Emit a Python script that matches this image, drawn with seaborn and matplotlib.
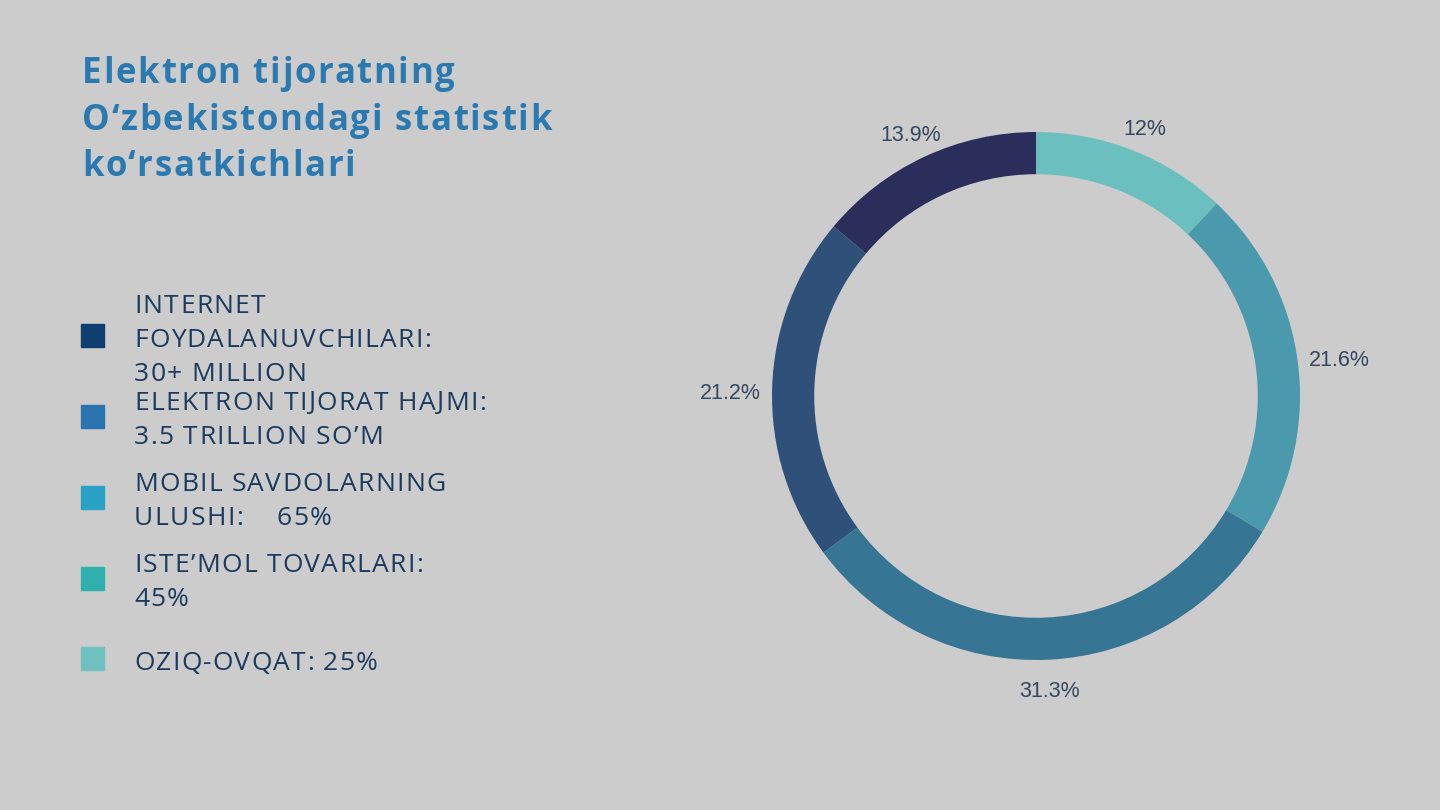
import matplotlib
matplotlib.use("Agg")
import numpy as np
import matplotlib.pyplot as plt
import matplotlib.patches as mpatches
import matplotlib.transforms as mtransforms
from matplotlib.font_manager import FontProperties
import seaborn as sns

# data
slice_values = [12, 21.6, 31.3, 21.2, 13.9]
slice_labels = ["12%", "21.6%", "31.3%", "21.2%", "13.9%"]
slice_colors = ["#6cbfbf", "#4a99ad", "#367594", "#2f5078", "#2b2e5a"]

legend_items = [
    ["INTERNET", "FOYDALANUVCHILARI:", "30+ MILLION"],
    ["ELEKTRON TIJORAT HAJMI:", "3.5 TRILLION SO\u2019M"],
    ["MOBIL SAVDOLARNING", "ULUSHI:    65%"],
    ["ISTE\u2019MOL TOVARLARI:", "45%"],
    ["OZIQ-OVQAT: 25%"],
]
legend_colors = ["#0f3f6e", "#2a74b0", "#2aa2c6", "#2fb0ae", "#70c1c1"]

title_lines = ["Elektron tijoratning", "O\u2018zbekistondagi statistik", "ko\u2018rsatkichlari"]

sns.set_theme(style="white")
plt.rcParams['font.family'] = ['Open Sans', 'DejaVu Sans']

W, H = 1440, 810
fig = plt.figure(figsize=(14.4, 8.1), dpi=100)
fig.patch.set_facecolor("#cccccc")
renderer = fig.canvas.get_renderer()


def tracked_text(x, y, s, size, tracking, weight="normal", color="k"):
    """draw a line of text with extra letter spacing (pixels), y is the baseline"""
    fp = FontProperties(family=['Open Sans', 'DejaVu Sans'], size=size, weight=weight)
    bar_w = renderer.get_text_width_height_descent("|", fp, ismath=False)[0]
    for i, ch in enumerate(s):
        if ch == " ":
            continue
        if i == 0:
            off = 0
        else:
            off = renderer.get_text_width_height_descent(s[:i] + "|", fp, ismath=False)[0] - bar_w
        fig.text((x + off + i * tracking) / W, 1 - y / H, ch, fontproperties=fp,
                 color=color, ha="left", va="baseline")


# title
for i, line in enumerate(title_lines):
    tracked_text(82, 83 + i * 46.6, line, 25, 1.7, weight="bold", color="#2a79b0")

# legend: squares + labels
sq = 23
legend_sq_y = [335.5, 416, 497, 578, 658]
legend_base_y = [313, 409.5, 491, 572.5, 670]
line_pitch = 34
for lines, col, ys, yb in zip(legend_items, legend_colors, legend_sq_y, legend_base_y):
    fig.patches.append(mpatches.Rectangle((81 / W, 1 - (ys + sq / 2) / H), sq / W, sq / H,
                                          transform=fig.transFigure, color=col))
    for j, line in enumerate(lines):
        tracked_text(134, yb + j * line_pitch, line, 19, 1.3, color="#1b3a5e")

# donut
cx, cy, r = 1036, 396, 264
ax = fig.add_axes([(cx - r) / W, 1 - (cy + r) / H, 2 * r / W, 2 * r / H])
wedges, texts = ax.pie(slice_values, labels=slice_labels, colors=slice_colors,
                       startangle=90, counterclock=False, radius=1,
                       labeldistance=1.1,
                       wedgeprops=dict(width=0.16, linewidth=0),
                       textprops=dict(fontsize=15.5, color="#33475f",
                                      family=["Liberation Sans", "DejaVu Sans"]))
# push side labels a little further out so wide text clears the ring
label_tr = mtransforms.offset_copy(ax.transData, fig=fig, y=-7, units="dots")
for w, t in zip(wedges, texts):
    mid = np.deg2rad((w.theta1 + w.theta2) / 2)
    d = 1.09 + 0.07 * abs(np.cos(mid))
    t.set_position((d * np.cos(mid), d * np.sin(mid)))
    t.set_transform(label_tr)
    t.set_ha("center")
    t.set_va("center")
ax.set_xlim(-1, 1)
ax.set_ylim(-1, 1)
ax.set_axis_off()

fig.savefig("out.png", dpi=100, facecolor=fig.get_facecolor())
